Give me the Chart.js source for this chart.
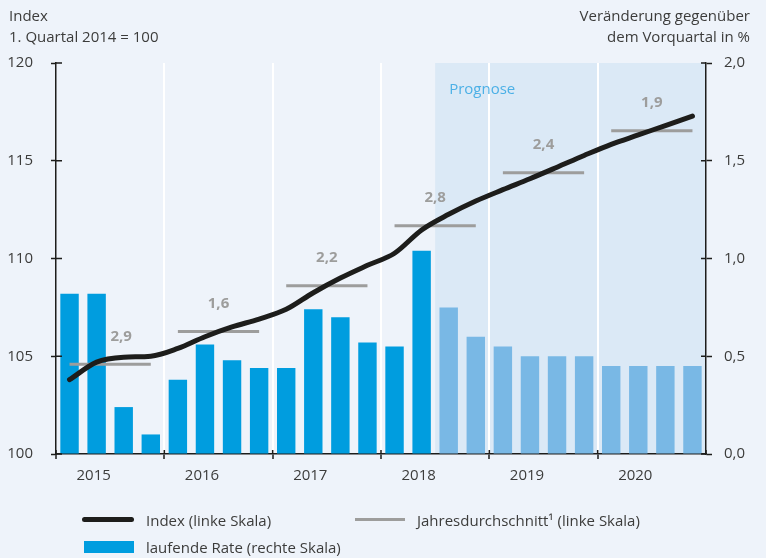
<!DOCTYPE html>
<html lang="de">
<head>
<meta charset="utf-8">
<title>Index und laufende Rate</title>
<script src="https://cdn.jsdelivr.net/npm/chart.js@4/dist/chart.umd.min.js"></script>
<style>
  body { margin: 0; background: #eef3fa; font-family: "Open Sans", sans-serif; color: #3c3c3b; }
  #wrap { position: relative; width: 766px; height: 558px; }
  #wrap canvas { position: absolute; left: 0; top: 0; }
  .txt { position: absolute; font-size: 15px; line-height: 20px; height: 20px; white-space: nowrap; }
  .r { text-align: right; }
  .key { position: absolute; }
</style>
</head>
<body>
<div id="wrap">
  <canvas id="chart"></canvas>
  <div class="txt" style="left:9px; top:5px;">Index</div>
  <div class="txt" style="left:9px; top:26px;">1. Quartal 2014 = 100</div>
  <div class="txt r" style="right:16px; top:5px;">Veränderung gegenüber</div>
  <div class="txt r" style="right:16px; top:26px;">dem Vorquartal in %</div>

  <div class="key" style="left:82px; top:517px; width:52px; height:5px; border-radius:3px; background:#1d1d1b;"></div>
  <div class="txt" style="left:146px; top:510px;">Index (linke Skala)</div>
  <div class="key" style="left:355px; top:518px; width:50px; height:3px; background:#9d9d9c;"></div>
  <div class="txt" style="left:417px; top:510px;">Jahresdurchschnitt¹ (linke Skala)</div>
  <div class="key" style="left:84px; top:541px; width:50px; height:12px; background:#009ddf;"></div>
  <div class="txt" style="left:146px; top:537px;">laufende Rate (rechte Skala)</div>
</div>
<script>
// Jahre und Quartale 2015-2020
const years = ['2015', '2016', '2017', '2018', '2019', '2020'];
const quarters = ['Q1', 'Q2', 'Q3', 'Q4'];

// Index, 1. Quartal 2014 = 100 (linke Skala)
const indexValues = [
  103.8, 104.7, 104.95, 105.0,
  105.4, 106.0, 106.5, 106.9,
  107.4, 108.25, 109.0, 109.65,
  110.27, 111.46, 112.26, 112.94,
  113.52, 114.08, 114.67, 115.27,
  115.84, 116.32, 116.8, 117.28
];

// laufende Rate, Veränderung gegenüber Vorquartal in % (rechte Skala)
const rateValues = [
  0.82, 0.82, 0.24, 0.10,
  0.38, 0.56, 0.48, 0.44,
  0.44, 0.74, 0.70, 0.57,
  0.55, 1.04, 0.75, 0.60,
  0.55, 0.50, 0.50, 0.50,
  0.45, 0.45, 0.45, 0.45
];

// Jahresdurchschnitt des Index und Veränderung gegenüber Vorjahr
const yearAvg = [104.59, 106.26, 108.6, 111.68, 114.39, 116.54];
const yearGrowth = ['2,9', '1,6', '2,2', '2,8', '2,4', '1,9'];

// ab diesem Quartal Prognose (2018 Q3)
const forecastFrom = 14;

const labels = [];
years.forEach(y => quarters.forEach(q => labels.push(y + ' ' + q)));
const avgQuarterly = [];
yearAvg.forEach(v => { for (let i = 0; i < 4; i++) avgQuarterly.push(v); });

const barColors = rateValues.map((v, i) => i < forecastFrom ? '#009ddf' : '#79b8e5');
const axisColor = '#1d1d1b';
const textColor = '#3c3c3b';
const fontFamily = '"Open Sans", sans-serif';

function forecastX(chart) {
  const x = chart.scales.x;
  return (x.getPixelForValue(forecastFrom - 1) + x.getPixelForValue(forecastFrom)) / 2;
}

// Prognose-Hintergrund (unter dem Gitter)
const forecastArea = {
  id: 'forecastArea',
  beforeDraw(chart) {
    const { ctx, chartArea } = chart;
    const x0 = forecastX(chart);
    ctx.save();
    ctx.fillStyle = '#dbe9f6';
    ctx.fillRect(x0, chartArea.top, chartArea.right - x0, chartArea.bottom - chartArea.top);
    ctx.restore();
  }
};

// Beschriftungen: "Prognose" und Werte über den Jahresdurchschnitten
const avgLabels = {
  id: 'avgLabels',
  afterDatasetsDraw(chart) {
    const { ctx, scales, chartArea } = chart;
    ctx.save();
    ctx.fillStyle = '#4cb0e6';
    ctx.font = '15px ' + fontFamily;
    ctx.textBaseline = 'middle';
    ctx.fillText('Prognose', forecastX(chart) + 14, chartArea.top + 27);

    ctx.fillStyle = '#9d9d9c';
    ctx.font = 'bold 15px ' + fontFamily;
    ctx.textAlign = 'center';
    yearAvg.forEach((v, i) => {
      let x = (scales.x.getPixelForValue(i * 4) + scales.x.getPixelForValue(i * 4 + 3)) / 2;
      if (i === 0) x += 11; // Linie kreuzt hier, Beschriftung etwas nach rechts
      ctx.fillText(yearGrowth[i], x, scales.y.getPixelForValue(v) - 28);
    });
    ctx.restore();
  }
};

// kurze Teilstriche nach innen, damit sie die Achse kreuzen
const crossTicks = {
  id: 'crossTicks',
  afterDraw(chart) {
    const { ctx, chartArea, scales } = chart;
    ctx.save();
    ctx.strokeStyle = axisColor;
    ctx.lineWidth = 1.5;
    ctx.beginPath();
    scales.y.ticks.forEach(t => {
      const y = scales.y.getPixelForValue(t.value);
      ctx.moveTo(chartArea.left, y); ctx.lineTo(chartArea.left + 6, y);
    });
    scales.y1.ticks.forEach(t => {
      const y = scales.y1.getPixelForValue(t.value);
      ctx.moveTo(chartArea.right - 5, y); ctx.lineTo(chartArea.right, y);
    });
    for (let i = 0; i <= labels.length; i += 4) {
      const x = i === 0 ? chartArea.left : i === labels.length ? chartArea.right
        : (scales.x.getPixelForValue(i - 1) + scales.x.getPixelForValue(i)) / 2;
      ctx.moveTo(x, chartArea.bottom - 4); ctx.lineTo(x, chartArea.bottom);
    }
    ctx.stroke();
    ctx.restore();
  }
};

new Chart(document.getElementById('chart'), {
  data: {
    labels: labels,
    datasets: [
      {
        type: 'line',
        label: 'Index (linke Skala)',
        data: indexValues,
        yAxisID: 'y',
        borderColor: '#1d1d1b',
        borderWidth: 5,
        borderCapStyle: 'round',
        pointRadius: 0,
        cubicInterpolationMode: 'monotone',
        order: 1
      },
      {
        type: 'line',
        label: 'Jahresdurchschnitt¹ (linke Skala)',
        data: avgQuarterly,
        yAxisID: 'y',
        borderColor: '#9d9d9c',
        borderWidth: 3,
        pointRadius: 0,
        segment: {
          borderColor: ctx => ctx.p0DataIndex % 4 === 3 ? 'rgba(0,0,0,0)' : undefined
        },
        order: 2
      },
      {
        type: 'bar',
        label: 'laufende Rate (rechte Skala)',
        data: rateValues,
        yAxisID: 'y1',
        backgroundColor: barColors,
        barPercentage: 0.68,
        categoryPercentage: 1,
        order: 3
      }
    ]
  },
  options: {
    responsive: true,
    maintainAspectRatio: false,
    animation: false,
    layout: { padding: { top: 63, left: 0, right: 0, bottom: 0 } },
    plugins: {
      legend: { display: false },
      tooltip: { enabled: false }
    },
    scales: {
      x: {
        offset: true,
        afterFit: s => { s.height = 104; },
        border: { color: axisColor, width: 1.5 },
        grid: {
          offset: true,
          lineWidth: 2,
          tickLength: 5,
          tickWidth: 1.5,
          color: ctx => (ctx.index > 0 && ctx.index % 4 === 0) ? '#ffffff' : 'rgba(0,0,0,0)',
          tickColor: ctx => (ctx.index !== undefined && ctx.index % 4 === 0) ? axisColor : 'rgba(0,0,0,0)'
        },
        ticks: {
          autoSkip: false,
          maxRotation: 0,
          padding: 8,
          labelOffset: -3,
          color: textColor,
          font: { family: fontFamily, size: 15 },
          callback: (v, i) => i % 4 === 1 ? years[Math.floor(i / 4)] : ''
        }
      },
      y: {
        position: 'left',
        min: 100,
        max: 120,
        afterFit: s => { s.width = 56; },
        border: { color: axisColor, width: 1.5 },
        grid: { drawOnChartArea: false, tickLength: 5, tickWidth: 1.5, color: axisColor },
        ticks: {
          stepSize: 5,
          padding: 18,
          color: textColor,
          font: { family: fontFamily, size: 15 }
        }
      },
      y1: {
        position: 'right',
        min: 0,
        max: 2,
        afterFit: s => { s.width = 60; },
        border: { color: axisColor, width: 1.5 },
        grid: { drawOnChartArea: false, tickLength: 6, tickWidth: 1.5, color: axisColor },
        ticks: {
          stepSize: 0.5,
          padding: 12,
          color: textColor,
          font: { family: fontFamily, size: 15 },
          callback: v => v.toFixed(1).replace('.', ',')
        }
      }
    }
  },
  plugins: [forecastArea, avgLabels, crossTicks]
});
</script>
</body>
</html>
